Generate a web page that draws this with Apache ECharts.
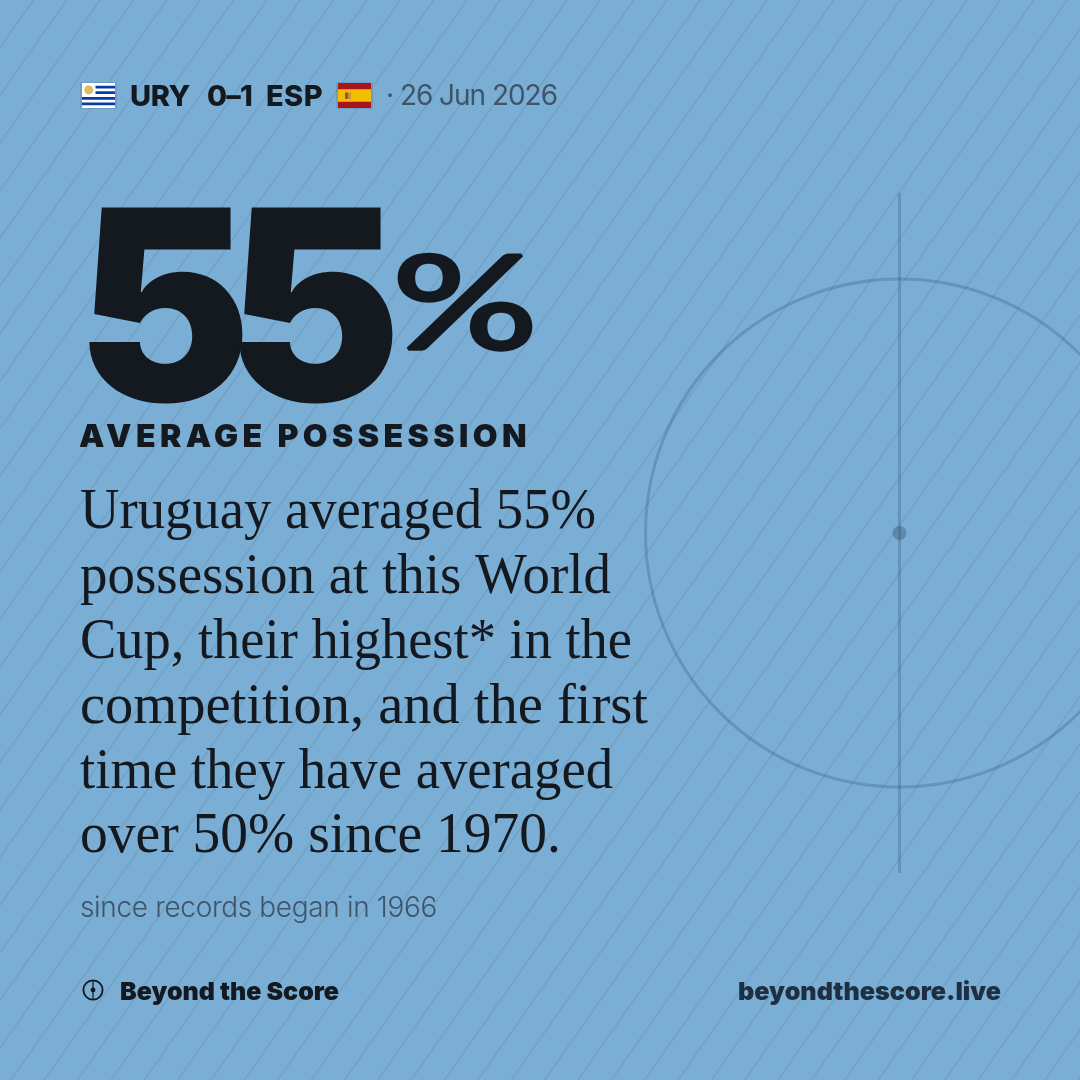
<!DOCTYPE html>
<html><head><meta charset="utf-8">
<style>html,body{margin:0;padding:0;background:#7baed4}#c{width:1080px;height:1080px}</style>
<script src="https://cdn.jsdelivr.net/npm/echarts@6/dist/echarts.min.js"></script>
</head><body><div id="c"></div>
<script>
const matchTeams = ['URY', '0–1', 'ESP'];
const matchDate = '· 26 Jun 2026';
const statValue = ['55'];
const statUnit = ['%'];
const statLabel = ['AVERAGE POSSESSION'];
const bodyLines = ['Uruguay averaged 55%', 'possession at this World', 'Cup, their highest* in the', 'competition, and the first', 'time they have averaged', 'over 50% since 1970.'];
const bodyWidths = [516, 531, 552, 568, 533, 481];
const footnote = ['since records began in 1966'];
const brand = ['Beyond the Score'];
const site = ['beyondthescore.live'];

const INK = '#14181f', MUTED = '#3f5469', SANS = 'Inter, "Noto Sans", sans-serif', SERIF = '"Liberation Serif", serif';
const els = [];

// zrender has no letter-spacing option: apply tracking per string at draw time
const tracking = {};
const origFill = CanvasRenderingContext2D.prototype.fillText;
CanvasRenderingContext2D.prototype.fillText = function (t, x, y, m) {
  this.letterSpacing = (tracking[t] || 0) + 'px';
  const r = m === undefined ? origFill.call(this, t, x, y) : origFill.call(this, t, x, y, m);
  this.letterSpacing = '0px';
  return r;
};
const origStroke = CanvasRenderingContext2D.prototype.strokeText;
CanvasRenderingContext2D.prototype.strokeText = function (t, x, y, m) {
  this.letterSpacing = (tracking[t] || 0) + 'px';
  const r = m === undefined ? origStroke.call(this, t, x, y) : origStroke.call(this, t, x, y, m);
  this.letterSpacing = '0px';
  return r;
};
const chart = echarts.init(document.getElementById('c'), null, {renderer: 'canvas', width: 1080, height: 1080});

const mctx = document.createElement('canvas').getContext('2d');
function measure(t, font) { mctx.font = font; return mctx.measureText(t).width; }
function text(t, x, y, size, weight, fam, fill, w, mode, extra) {
  const font = weight + ' ' + size + 'px ' + fam;
  const natural = measure(t, font);
  let sx = 1;
  if (w) {
    if (mode === 'scale') sx = w / natural;
    else tracking[t] = (w - natural) / t.length;
  }
  els.push({type: 'text', x, y, scaleX: sx, scaleY: 1, silent: true,
    style: Object.assign({text: t, font, fill, textAlign: 'left', verticalAlign: 'middle'}, extra || {})});
}
function rect(x, y, w, h, fill, r) { els.push({type: 'rect', silent: true, shape: {x, y, width: w, height: h, r: r || 0}, style: {fill}}); }

// diagonal hatch
for (let i = -40; i < 60; i++) {
  const x0 = i * 33.35 + 11;
  els.push({type: 'line', silent: true, shape: {x1: x0, y1: 1080, x2: x0 + 756, y2: 0},
    style: {stroke: 'rgba(40,70,110,0.12)', lineWidth: 1.5}});
}
// pitch
const PITCH = 'rgba(30,55,85,0.22)';
els.push({type: 'line', silent: true, shape: {x1: 899.5, y1: 193, x2: 899.5, y2: 873}, style: {stroke: PITCH, lineWidth: 3}});
els.push({type: 'circle', silent: true, shape: {cx: 899.5, cy: 533, r: 254}, style: {fill: 'none', stroke: PITCH, lineWidth: 3}});
els.push({type: 'circle', silent: true, shape: {cx: 899.5, cy: 533, r: 7}, style: {fill: 'rgba(30,55,85,0.3)'}});

// Uruguay flag
rect(80, 82, 37, 27, 'rgba(60,90,125,0.2)', 2);
rect(82, 83, 33, 25, '#ffffff');
[0,1,2,3].forEach(k => rect(82, 85.8 + k * 5.55, 33, 2.75, '#0a3aa8'));
rect(82, 83, 13.5, 13.8, '#ffffff');
els.push({type: 'circle', silent: true, shape: {cx: 88.7, cy: 89.8, r: 3.8}, style: {fill: '#e8c050', stroke: '#c9b27a', lineWidth: 1.2}});
// Spain flag
rect(336, 82, 37, 27, 'rgba(60,90,125,0.2)', 2);
rect(338, 83, 33, 25, '#aa151b');
rect(338, 89.3, 33, 12.5, '#f1bf00');
rect(345, 92.5, 3, 6.5, '#b5482a');
rect(348, 92.5, 3, 6.5, '#c9923a');

// header
text(matchTeams[0], 130, 97, 29, 800, SANS, INK, 60);
text(matchTeams[1], 207, 97, 29, 800, SANS, INK, 45);
text(matchTeams[2], 266, 97, 29, 800, SANS, INK, 57);
text(matchDate, 386, 97, 28, 400, SANS, MUTED, 171);

// big number: wide digits set tight, so the two 5s touch as in the card
const bigFont = '900 266px ' + SANS;
const bigAdv = measure(statValue[0], bigFont) / statValue[0].length;
const bigScale = (158 / bigAdv) * 1.11;
tracking[statValue[0]] = 150 / bigScale - bigAdv;
els.push({type: 'text', x: 76, y: 321, scaleX: bigScale, scaleY: 1, silent: true,
  style: {text: statValue[0], font: bigFont, fill: INK, textAlign: 'left', verticalAlign: 'middle'}});

text(statUnit[0], 392, 307, 130, 400, 'Lato, sans-serif', INK, 146, 'scale', {stroke: INK, lineWidth: 3.5, lineJoin: 'miter'});
text(statLabel[0], 79, 437, 32, 900, SANS, INK, 452);

// body
bodyLines.forEach((l, i) => text(l, 80, 513.5 + i * 64.8, 57, 400, SERIF, INK, bodyWidths[i], 'scale'));
text(footnote[0], 80, 909, 28, 300, SANS, MUTED, 357);

// footer
els.push({type: 'circle', silent: true, shape: {cx: 93, cy: 990, r: 9.6}, style: {fill: 'none', stroke: INK, lineWidth: 1.8}});
els.push({type: 'line', silent: true, shape: {x1: 93, y1: 981, x2: 93, y2: 999}, style: {stroke: INK, lineWidth: 1.2}});
els.push({type: 'circle', silent: true, shape: {cx: 93, cy: 990, r: 2.4}, style: {fill: INK}});
text(brand[0], 120, 992, 25, 900, SANS, INK, 219, 'scale');
text(site[0], 738, 992, 25, 900, SANS, '#1e2f42', 263, 'scale');

chart.setOption({animation: false, backgroundColor: '#7baed4', graphic: {elements: els}});
</script></body></html>
